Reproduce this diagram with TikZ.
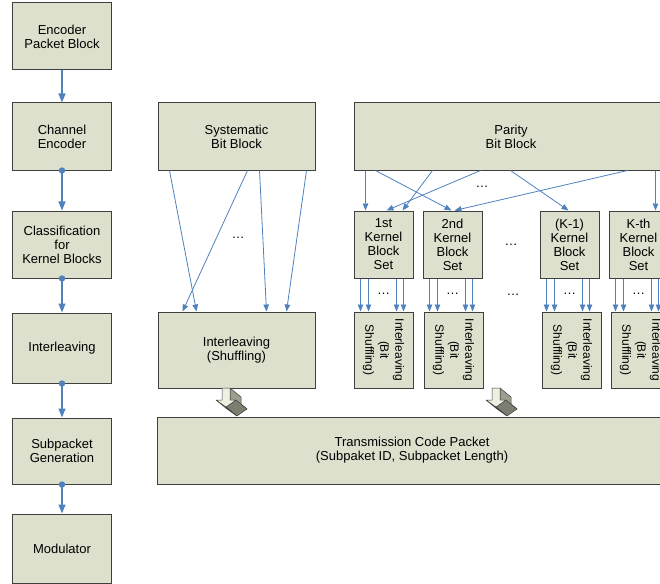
\documentclass[tikz,border=0pt]{standalone}
\usepackage{fontspec}
\setmainfont{Liberation Sans}
\usetikzlibrary{arrows.meta,calc}
\definecolor{boxfill}{HTML}{DDE0CC}
\definecolor{boxline}{HTML}{3F3F3F}
\definecolor{arrowblue}{HTML}{4F81BD}
\definecolor{faceA}{HTML}{EEF0E2}
\definecolor{faceB}{HTML}{9C9E8E}
\definecolor{faceC}{HTML}{7C7F70}
\newcommand{\blockarr}[1]{%
  \begin{scope}[shift={#1}, every path/.style={draw=boxline, line width=0.5bp, line join=round}]
    \filldraw[fill=faceB] (4,12) -- (10,12) -- (21,21) -- (15,21) -- cycle;
    \filldraw[fill=faceB] (4,0) -- (4,12) -- (15,21) -- (15,9) -- cycle;
    \filldraw[fill=faceC] (10,12) -- (0,19) -- (11,28) -- (21,21) -- cycle;
    \filldraw[fill=faceC] (0,19) -- (-10,12) -- (1,21) -- (11,28) -- cycle;
    \filldraw[fill=faceA] (-4,0) -- (4,0) -- (4,12) -- (10,12) -- (0,19) -- (-10,12) -- (-4,12) -- cycle;
  \end{scope}}
\begin{document}
\begin{tikzpicture}[x=1bp,y=-1bp,
  font={\fontsize{13bp}{14bp}\selectfont},
  box/.style={draw=boxline, fill=boxfill, line width=1bp, align=center, inner sep=0pt},
  colbox/.style={box, minimum width=98bp},
  kbox/.style={box, minimum width=59bp, minimum height=67bp},
  ibox/.style={box, minimum width=59bp, minimum height=76bp},
  flow/.style={draw=arrowblue, line width=1.2bp, -{Triangle[length=9bp,width=7bp]}},
  thinarr/.style={draw=arrowblue, line width=0.8bp, -{Triangle[length=7bp,width=5.5bp]}},
  dotstart/.style={fill=arrowblue},
  rot/.style={rotate=-90, align=center, font={\fontsize{12bp}{15bp}\selectfont}}]
\clip (0,0) rectangle (660,584);
% left column
\node[colbox, minimum height=67bp] (enc) at (62,36.5) {Encoder\\Packet Block};
\node[colbox, minimum height=67bp] (chan) at (62,136.5) {Channel\\Encoder};
\node[colbox, minimum height=67bp] (cls) at (62,244.5) {Classification\\for\\Kernel Blocks};
\node[colbox, minimum height=70bp] (intl) at (62,348) {Interleaving};
\node[colbox, minimum height=66bp] (subp) at (62,451) {Subpacket\\Generation};
\node[colbox, minimum height=69bp] (mod) at (62,548.5) {Modulator};
\draw[flow] (enc.south) -- (chan.north);
\draw[flow] (chan.south) -- (cls.north);
\draw[flow] (cls.south) -- (intl.north);
\draw[flow] (intl.south) -- (subp.north);
\draw[flow] (subp.south) -- (mod.north);
\foreach \n in {chan,cls,intl,subp} \fill[dotstart] (\n.south) circle (3.2bp);
% systematic branch
\node[box, minimum width=157bp, minimum height=67bp] (sys) at (236.5,136.5) {Systematic\\Bit Block};
\node[box, minimum width=157bp, minimum height=76bp] (ibig) at (236.5,350) {Interleaving\\(Shuffling)};
\draw[thinarr] ([xshift=12bp]sys.south west) -- ([xshift=39bp]ibig.north west);
\draw[thinarr] ([xshift=90bp]sys.south west) -- ([xshift=25bp]ibig.north west);
\draw[thinarr] ([xshift=102bp]sys.south west) -- ([xshift=109bp]ibig.north west);
\draw[thinarr] ([xshift=149bp]sys.south west) -- ([xshift=129bp]ibig.north west);
\node (sdots) at (238,238) {\ldots};
% parity branch
\node[box, minimum width=314bp, minimum height=67bp] (par) at (511,136.5) {Parity\\Bit Block};
\node[kbox] (k1) at (383.5,244.5) {1st\\Kernel\\Block\\Set};
\node[kbox] (k2) at (452.5,244.5) {2nd\\Kernel\\Block\\Set};
\node[kbox] (k3) at (569.5,244.5) {(K-1)\\Kernel\\Block\\Set};
\node[kbox] (k4) at (638.5,244.5) {K-th\\Kernel\\Block\\Set};
\node[ibox] (i1) at (383.5,350) {};
\node[ibox] (i2) at (453.5,350) {};
\node[ibox] (i3) at (571.5,350) {};
\node[ibox] (i4) at (640.5,350) {};
\foreach \n in {i1,i2,i3,i4} \node[rot] at (\n) {Interleaving\\(Bit\\Shuffling)};
\draw[thinarr] ([xshift=12bp]par.south west) -- ([xshift=12bp]k1.north west);
\draw[thinarr] ([xshift=22bp]par.south west) -- ([xshift=29bp]k2.north west);
\draw[thinarr] ([xshift=79bp]par.south west) -- ([xshift=49bp]k1.north west);
\draw[thinarr] ([xshift=127bp]par.south west) -- ([xshift=33bp]k1.north west);
\draw[thinarr] ([xshift=157bp]par.south west) -- ([xshift=29bp]k3.north west);
\draw[thinarr] ([xshift=274bp]par.south west) -- ([xshift=32bp]k2.north west);
\draw[thinarr] ([xshift=302bp]par.south west) -- ([xshift=47bp]k4.north west);
\node (pdots) at (482,187) {\ldots};
\node (kdots) at (511,245) {\ldots};
\node (idots) at (513,295) {\ldots};
\foreach \k/\i in {k1/i1,k2/i2,k3/i3,k4/i4} {
  \foreach \o in {7,15,43,50}
    \draw[thinarr] ([xshift=\o bp]\k.south west) -- ([xshift=\o bp]\k.south west |- \i.north);
  \node at ([yshift=-15bp]\k.south) {\ldots};
}
% transmission
\node[box, minimum width=508bp, minimum height=67bp] (tx) at (412,450.5) {Transmission Code Packet\\(Subpaket ID, Subpacket Length)};
\blockarr{(226,388)}
\blockarr{(496,388)}
\end{tikzpicture}
\end{document}
